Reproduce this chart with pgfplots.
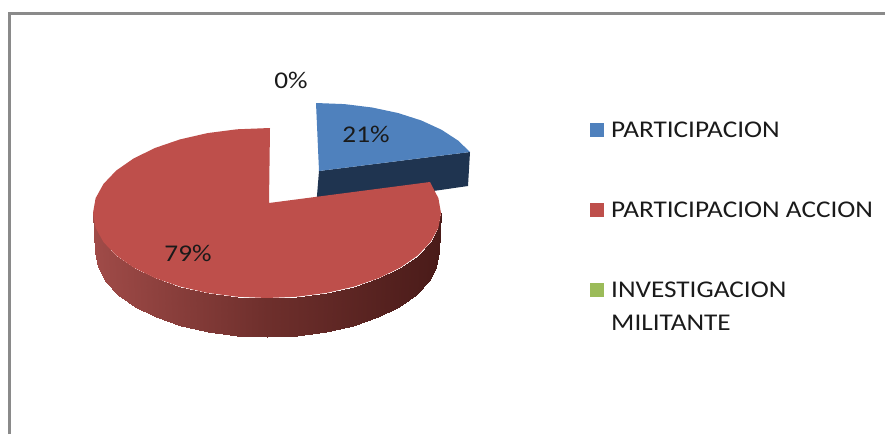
\documentclass[border=0pt]{standalone}
\usepackage{pgfplots}
\pgfplotsset{compat=1.18}
\usepackage{fontspec}
\setmainfont[FakeStretch=1.135]{Carlito}
\definecolor{cblue}{HTML}{4F81BD}
\definecolor{cbluedark}{HTML}{1F3450}
\definecolor{cred}{HTML}{BE4F4B}
\definecolor{cgreen}{HTML}{9BBB59}
\definecolor{cframe}{HTML}{8A8A8A}
\definecolor{ctext}{HTML}{1A1A1A}
\tikzset{lab/.style={font=\fontsize{24}{26}\selectfont,text=ctext,inner sep=0pt}}
\begin{document}
\begin{tikzpicture}
\useasboundingbox (0,0) rectangle (885pt,434pt);
\begin{axis}[
  at={(0,0)},anchor=south west,
  width=885pt,height=434pt,scale only axis,
  xmin=0,xmax=885,ymin=0,ymax=434,y dir=reverse,
  axis lines=none,clip=true,
  colormap={side}{rgb255(0cm)=(160,75,72); rgb255(1cm)=(110,47,44); rgb255(2cm)=(74,27,25)},
  point meta min=0,point meta max=1
]
% chart frame
\addplot[cframe,line width=3pt,line cap=butt] coordinates {(9.5,434) (9.5,13.5) (885,13.5)};
% blue slice (21%) side and top
\addplot[fill=cbluedark,draw=none] coordinates {(319,171) (470,152) (468,186) (316,208)} --cycle;
\addplot[fill=cblue,draw=none] coordinates {(316,103) (344.5,104.1) (372.1,107.5) (398,113) (421.4,120.5) (441.6,129.8) (458,140.5) (470,152) (319,171)} --cycle;
% red slice (79%) side
\addplot[surf,shader=interp,mesh/rows=2,point meta=\thisrow{c}] table {
x y c
93 213 0
95.6 227.8 0.007
103.5 242.1 0.03
116.3 255.5 0.067
133.7 267.6 0.117
155.2 278.1 0.179
180 286.6 0.25
207.5 292.9 0.329
236.8 296.7 0.413
267 298 0.5
297.2 296.7 0.587
326.5 292.9 0.671
354 286.6 0.75
378.8 278.1 0.821
400.3 267.6 0.883
417.7 255.5 0.933
430.5 242.1 0.97
438.4 227.8 0.993
441 213 1
95 252 0
97.6 266.8 0.007
105.4 281.1 0.03
118 294.5 0.067
135.2 306.6 0.117
156.4 317.1 0.179
181 325.6 0.25
208.2 331.9 0.329
237.1 335.7 0.413
267 337 0.5
296.9 335.7 0.587
325.8 331.9 0.671
353 325.6 0.75
377.6 317.1 0.821
398.8 306.6 0.883
416 294.5 0.933
428.6 281.1 0.97
436.4 266.8 0.993
439 252 1
};
% red slice top
\addplot[fill=cred,draw=none] coordinates {
(270,128) (236.8,129.3) (207.5,133.1) (180,139.4) (155.2,147.9) (133.7,158.4) (116.3,170.5) (103.5,183.9) (95.6,198.2) (93,213)
(95.6,227.8) (103.5,242.1) (116.3,255.5) (133.7,267.6) (155.2,278.1) (180,286.6) (207.5,292.9) (236.8,296.7) (267,298)
(297.2,296.7) (326.5,292.9) (354,286.6) (378.8,278.1) (400.3,267.6) (417.7,255.5) (430.5,242.1) (438.4,227.8) (441,213)
(438.4,198.2) (430,182) (269,203)} --cycle;
% legend keys
\addplot[fill=cblue,draw=none] coordinates {(590,123) (604,123) (604,137) (590,137)} --cycle;
\addplot[fill=cred,draw=none] coordinates {(590,203) (604,203) (604,217) (590,217)} --cycle;
\addplot[fill=cgreen,draw=none] coordinates {(590,283) (604,283) (604,297) (590,297)} --cycle;
% data labels
\node[lab] at (axis cs:291,80) {0\%};
\node[lab] at (axis cs:366,134) {21\%};
\node[lab] at (axis cs:188,253) {79\%};
% legend text
\node[lab,anchor=west] at (axis cs:611,130) {PARTICIPACION};
\node[lab,anchor=west] at (axis cs:611,210) {PARTICIPACION ACCION};
\node[lab,anchor=west] at (axis cs:611,290) {INVESTIGACION};
\node[lab,anchor=west] at (axis cs:611,323) {MILITANTE};
\end{axis}
\end{tikzpicture}
\end{document}
